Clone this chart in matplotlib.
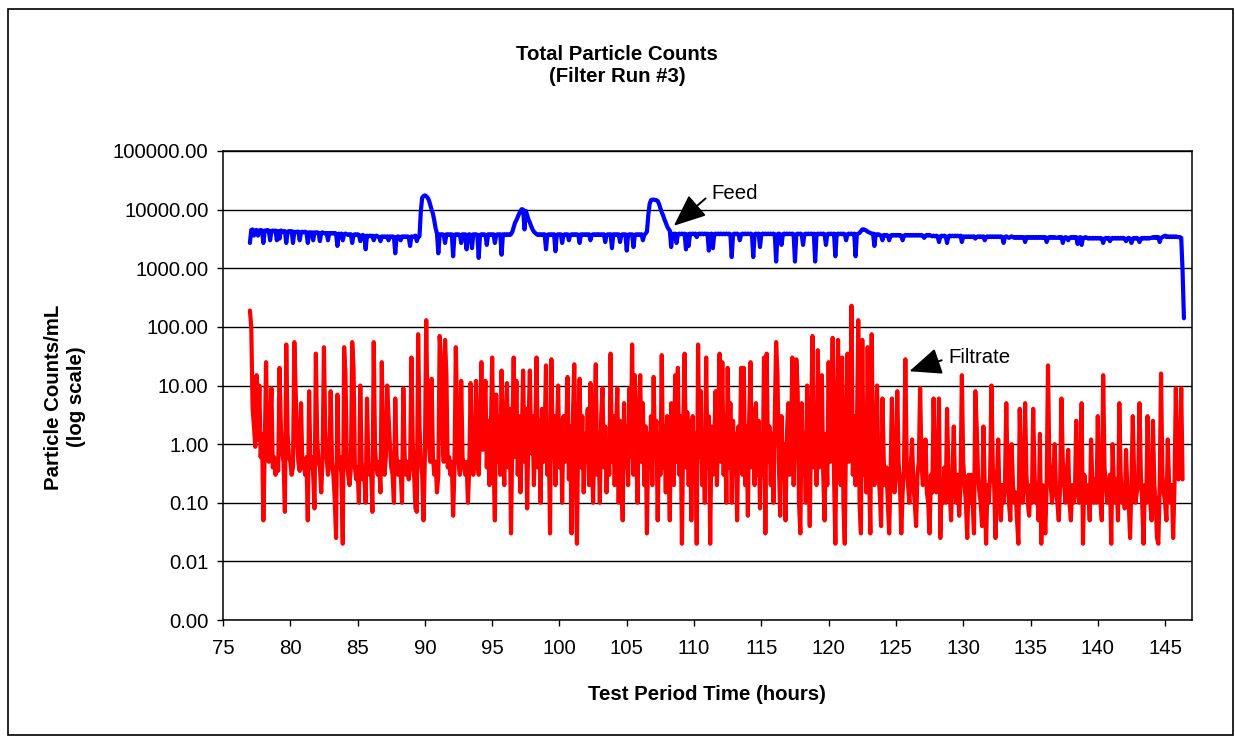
import numpy as np
import matplotlib
matplotlib.use("Agg")
import matplotlib.pyplot as plt
from matplotlib.patches import Rectangle
from matplotlib.ticker import FixedLocator, FixedFormatter, NullLocator

plt.rcParams['font.family'] = ['Liberation Sans', 'DejaVu Sans']

# ---------------- text ----------------
title_text = "Total Particle Counts\n(Filter Run #3)"
x_label = "Test Period Time (hours)"
y_label = "Particle Counts/mL\n(log scale)"
feed_label = "Feed"
filtrate_label = "Filtrate"

x_ticks = [75, 80, 85, 90, 95, 100, 105, 110, 115, 120, 125, 130, 135, 140, 145]
y_ticks = [0.001, 0.01, 0.1, 1, 10, 100, 1000, 10000, 100000]
y_tick_labels = ["0.00", "0.01", "0.10", "1.00", "10.00", "100.00",
                 "1000.00", "10000.00", "100000.00"]

# ---------------- data (sampled every 0.1 h) ----------------
sample_step_h = 0.1
feed_start_h = 77.0
filtrate_start_h = 77.0

feed_counts = [
    2700, 4500, 4600, 3600, 4400, 4500, 3600, 4400, 4500, 4400,   # 77
    2700, 4400, 4300, 4500, 4400, 3000, 4300, 4400, 4300, 4400,   # 78
    3000, 4300, 3200, 4400, 4300, 4200, 4300, 2700, 4200, 4300,   # 79
    4200, 4300, 2700, 4200, 4100, 4200, 4200, 3000, 4100, 4200,   # 80
    4100, 4200, 4100, 2700, 4100, 4000, 4100, 3000, 4100, 4000,   # 81
    4100, 4000, 2900, 4000, 4100, 4000, 3900, 4000, 3000, 4000,   # 82
    3900, 4000, 3900, 4000, 3900, 2400, 3900, 3800, 3900, 3000,   # 83
    3800, 3900, 3800, 3700, 3800, 3800, 2700, 3700, 3800, 3700,   # 84
    3800, 3700, 2900, 3600, 3700, 3500, 2100, 3600, 3500, 3600,   # 85
    3500, 3600, 3000, 3500, 3600, 3500, 3400, 2900, 3500, 3400,   # 86
    3500, 3400, 3500, 3000, 3500, 3400, 3500, 3400, 1800, 3400,   # 87
    3500, 3400, 3000, 3500, 3400, 3500, 3400, 3500, 3400, 2400,   # 88
    3500, 3400, 3500, 3600, 2900, 3400, 3500, 9500, 16000, 17000,  # 89
    17500, 17000, 16000, 14500, 12000, 10000, 8500, 6500, 4800, 3900,  # 90
    1800, 3800, 3700, 3800, 3700, 2700, 3800, 3700, 3800, 3700,   # 91
    3800, 1600, 3700, 3800, 3700, 3800, 3700, 2700, 3800, 3700,   # 92
    3800, 2100, 3700, 3800, 3700, 2200, 3800, 3700, 3800, 3700,   # 93
    1500, 3700, 3800, 3700, 3800, 3700, 2500, 3800, 3700, 3800,   # 94
    3700, 3800, 2700, 3700, 3800, 3700, 3800, 1700, 3800, 3700,   # 95
    3800, 3700, 3800, 3700, 3800, 4200, 5000, 6000, 6600, 7500,   # 96
    8500, 9500, 10200, 10000, 4600, 9500, 8000, 6800, 6000, 5200,  # 97
    4600, 4200, 4000, 3800, 3700, 3800, 3700, 3800, 3700, 3800,   # 98
    2100, 3700, 3800, 3700, 3800, 3700, 3800, 1950, 3700, 3800,   # 99
    3700, 3800, 2700, 3700, 3800, 3700, 3800, 3000, 3700, 3800,   # 100
    3700, 3800, 3700, 3800, 3700, 2700, 3800, 3700, 3800, 3700,   # 101
    3800, 3700, 3800, 3000, 3700, 3800, 3700, 3800, 3700, 3800,   # 102
    3700, 3800, 3700, 3800, 2800, 3700, 3800, 3700, 3800, 2200,   # 103
    3800, 3700, 3800, 3700, 3800, 2800, 3700, 3800, 3700, 3800,   # 104
    2000, 3700, 3800, 3700, 3800, 2300, 3700, 3800, 3700, 3800,   # 105
    3700, 3800, 3000, 3700, 3900, 4200, 8000, 12500, 14500, 14800,  # 106
    14800, 14600, 14500, 14000, 12500, 10500, 9000, 8000, 6800, 6000,  # 107
    5200, 4700, 4400, 2300, 3900, 3800, 3900, 2700, 3800, 3900,   # 108
    3800, 3900, 3800, 3900, 2100, 3800, 2400, 3900, 3800, 3900,   # 109
    3800, 3900, 3400, 3800, 3900, 3800, 3900, 3800, 3900, 3800,   # 110
    3900, 2000, 3800, 3900, 2200, 3800, 3900, 3800, 3900, 3800,   # 111
    3900, 3800, 3900, 3800, 3900, 3800, 3900, 3800, 1550, 3800,   # 112
    3900, 3800, 3900, 3800, 3000, 3800, 3900, 3800, 3900, 3800,   # 113
    3900, 3800, 3900, 3800, 1550, 3800, 3900, 3800, 3900, 2300,   # 114
    3800, 3900, 3800, 3900, 3800, 3900, 3800, 3900, 3800, 3900,   # 115
    3800, 1300, 3800, 3900, 3800, 2500, 3800, 3900, 3800, 3900,   # 116
    3800, 3900, 3800, 3900, 3800, 1300, 3800, 3900, 3800, 3900,   # 117
    3800, 2500, 3800, 3900, 3800, 3900, 3800, 3900, 3800, 3900,   # 118
    1300, 3800, 3900, 3800, 3900, 3800, 3900, 3800, 2500, 3800,   # 119
    3900, 3800, 3900, 3800, 3900, 1600, 3800, 3900, 3800, 3900,   # 120
    3800, 3900, 3800, 3000, 3800, 3900, 3800, 3900, 3800, 3900,   # 121
    1600, 3800, 3900, 4000, 4300, 4600, 4600, 4500, 4400, 4200,   # 122
    4100, 4000, 3900, 3900, 2400, 3800, 3700, 3800, 3700, 3600,   # 123
    3000, 3700, 3600, 3700, 3600, 3000, 3600, 3700, 3600, 3700,   # 124
    3600, 3700, 3600, 3700, 3600, 3000, 3600, 3700, 3600, 3700,   # 125
    3600, 3700, 3600, 3700, 3600, 3700, 3600, 3700, 3600, 3700,   # 126
    3600, 3300, 3600, 3700, 3600, 3700, 3600, 3500, 3600, 3500,   # 127
    3600, 3500, 2800, 3500, 3600, 3500, 3600, 3500, 2700, 3500,   # 128
    3600, 3500, 3600, 3500, 3600, 3500, 3600, 3500, 3600, 2800,   # 129
    3500, 3400, 3500, 3400, 3500, 3400, 3500, 3400, 3500, 3200,   # 130
    3400, 3500, 3400, 3500, 3400, 3500, 3000, 3400, 3500, 3400,   # 131
    3500, 3400, 3500, 3400, 3500, 3400, 3500, 3400, 3500, 3400,   # 132
    2700, 3400, 3500, 3400, 3300, 3400, 3500, 3400, 3300, 3400,   # 133
    3300, 3400, 3300, 3400, 3300, 3400, 2800, 3400, 3300, 3400,   # 134
    3300, 3400, 3300, 3400, 3300, 3400, 3300, 3400, 3300, 3400,   # 135
    3300, 3400, 2800, 3300, 3400, 3300, 3400, 3300, 3400, 3300,   # 136
    3300, 3400, 3300, 3400, 2700, 3300, 3400, 3300, 3000, 3300,   # 137
    3400, 3300, 3400, 3300, 3400, 2600, 3300, 3400, 2500, 3300,   # 138
    3300, 3400, 3300, 3200, 3300, 3200, 3300, 3200, 3300, 3200,   # 139
    3300, 3200, 3300, 3200, 2700, 3200, 3300, 3200, 3300, 2900,   # 140
    3200, 3300, 3200, 3300, 3200, 3300, 3200, 3300, 3200, 3300,   # 141
    3200, 2900, 3200, 3300, 3200, 2700, 3200, 3300, 3200, 3300,   # 142
    3200, 2800, 3200, 3300, 3200, 3300, 3200, 3300, 3200, 3300,   # 143
    3300, 3400, 3300, 3400, 3300, 3400, 2800, 3300, 3400, 3500,   # 144
    3600, 3400, 3500, 3400, 3500, 3400, 3500, 3400, 3500, 3400,   # 145
    3400, 3400, 3300, 900, 140,                                   # 146
]

filtrate_counts = [
    190, 100, 4, 2, 0.9, 15, 1.2, 10, 0.6, 1.5,                   # 77
    0.05, 0.8, 25, 1.2, 0.5, 1.8, 9, 0.4, 0.6, 0.3,               # 78
    0.5, 0.35, 20, 2, 0.7, 0.5, 0.07, 50, 1.5, 0.6,               # 79
    0.5, 0.3, 0.4, 55, 8, 1.2, 0.5, 0.35, 5, 0.4,                 # 80
    0.5, 0.3, 0.6, 0.05, 8, 0.4, 0.6, 0.3, 0.08, 35,              # 81
    1.2, 0.5, 0.4, 0.15, 0.6, 45, 1.5, 0.6, 0.3, 0.5,             # 82
    8, 0.5, 0.3, 0.12, 0.025, 7, 0.4, 0.6, 0.3, 0.02,             # 83
    45, 15, 0.5, 0.3, 0.2, 0.4, 55, 20, 0.4, 0.25,                # 84
    0.4, 0.1, 10, 0.5, 0.25, 0.3, 0.1, 6, 0.5, 0.3,               # 85
    0.4, 0.07, 55, 0.8, 0.4, 0.3, 0.5, 0.15, 25, 0.5,             # 86
    0.3, 0.6, 10, 3, 1.0, 0.4, 0.3, 0.1, 6, 0.6,                  # 87
    0.3, 0.5, 0.35, 0.1, 9, 0.6, 0.3, 0.5, 0.25, 0.4,             # 88
    30, 1.0, 0.3, 0.08, 0.07, 75, 2, 0.5, 0.3, 0.05,              # 89
    0.6, 130, 3, 1, 0.5, 13, 0.6, 0.3, 0.5, 0.15,                 # 90
    0.3, 70, 25, 2, 0.5, 60, 15, 0.4, 0.6, 0.3,                   # 91
    0.5, 0.06, 0.4, 45, 3, 0.5, 0.3, 12, 0.6, 0.4,                # 92
    0.3, 0.5, 0.1, 0.4, 11, 0.5, 0.3, 0.5, 12, 0.6,               # 93
    0.3, 2, 25, 0.8, 3, 12, 0.4, 2.5, 0.2, 1.5,                   # 94
    30, 0.6, 0.05, 7, 0.5, 3, 0.3, 18, 1, 0.2,                    # 95
    2, 11, 0.4, 4, 0.03, 1.5, 30, 0.6, 12, 0.3,                   # 96
    3, 0.15, 1.2, 18, 0.5, 4, 0.08, 2, 18, 0.7,                   # 97
    3, 0.2, 1.5, 30, 0.4, 2.5, 0.1, 4, 0.5, 1.5,                  # 98
    22, 0.3, 2, 0.03, 28, 0.6, 3, 0.2, 1.2, 10,                   # 99
    0.4, 2.5, 0.1, 3, 0.5, 1.5, 14, 0.25, 2, 0.03,                # 100
    3, 23, 0.5, 0.02, 2, 13, 0.4, 3, 0.15, 1.5,                   # 101
    0.5, 4, 0.2, 11, 0.8, 0.1, 2, 23, 0.3, 1.5,                   # 102
    0.1, 3, 9, 0.4, 2, 0.15, 1, 0.3, 35, 0.5,                     # 103
    3, 0.2, 1.5, 9, 0.1, 2.5, 0.3, 0.05, 5, 0.4,                  # 104
    2, 0.2, 9, 0.6, 50, 0.3, 15, 0.8, 0.1, 3,                     # 105
    15, 0.5, 5, 0.2, 2, 0.03, 1.5, 0.4, 3, 0.2,                   # 106
    14, 0.6, 2.5, 0.05, 1.5, 0.3, 33, 0.4, 2, 0.15,               # 107
    3, 0.5, 0.05, 5, 1, 0.2, 15, 0.5, 20, 0.3,                    # 108
    3, 0.02, 2, 35, 0.4, 3.5, 0.2, 2.5, 0.05, 3,                  # 109
    0.3, 1.5, 0.02, 50, 0.6, 8, 0.2, 1.5, 0.1, 30,                # 110
    0.4, 3, 0.02, 2, 0.3, 1, 8, 0.2, 3, 35,                       # 111
    0.5, 25, 0.3, 3, 0.1, 20, 0.4, 5, 0.1, 2.5,                   # 112
    0.3, 1.5, 0.05, 2, 0.4, 20, 0.3, 20, 0.2, 2,                  # 113
    0.06, 3, 25, 0.4, 4, 0.2, 5, 0.3, 2.5, 0.08,                  # 114
    1.5, 0.3, 30, 0.03, 35, 0.5, 2, 0.2, 1.5, 0.1,                # 115
    3, 55, 15, 0.5, 0.06, 3, 0.3, 1, 0.05, 1.5,                   # 116
    5, 0.3, 0.5, 30, 0.2, 1.5, 28, 8, 0.1, 0.03,                  # 117
    5, 0.3, 1.5, 0.1, 10, 0.5, 0.04, 2, 70, 0.4,                  # 118
    3, 0.2, 40, 0.4, 2, 15, 0.3, 0.05, 1.5, 0.2,                  # 119
    25, 0.5, 2, 65, 0.3, 0.02, 3, 60, 0.5, 0.2,                   # 120
    30, 0.1, 0.02, 2, 35, 0.5, 1.5, 230, 0.3, 3,                  # 121
    0.2, 1.5, 130, 0.1, 0.03, 60, 0.3, 1, 0.15, 45,               # 122
    0.4, 0.03, 75, 0.5, 0.2, 1, 10, 0.3, 0.15, 0.04,              # 123
    6, 0.5, 0.2, 0.4, 0.1, 0.03, 0.3, 6, 0.4, 0.15,               # 124
    0.3, 8, 0.5, 0.2, 0.03, 0.15, 0.4, 28, 0.5, 0.2,              # 125
    0.1, 0.4, 1.2, 0.2, 0.1, 0.04, 0.3, 0.5, 9, 0.5,              # 126
    0.2, 0.4, 1.2, 0.15, 0.1, 0.03, 0.3, 0.15, 6, 0.4,            # 127
    0.15, 0.3, 6, 0.025, 0.2, 0.1, 0.4, 0.1, 4, 0.3,              # 128
    0.15, 0.05, 0.3, 2, 0.15, 0.1, 0.3, 0.06, 0.2, 15,            # 129
    0.5, 0.2, 0.1, 0.025, 0.3, 0.1, 0.3, 0.1, 0.03, 8,            # 130
    2, 0.3, 0.15, 0.1, 0.04, 2, 0.2, 0.02, 0.2, 0.1,              # 131
    0.3, 10, 0.4, 0.2, 0.025, 0.2, 1.2, 0.1, 0.05, 0.2,           # 132
    0.1, 0.2, 5, 0.3, 0.1, 0.05, 1, 0.2, 0.1, 0.15,               # 133
    0.05, 0.02, 4, 0.3, 0.1, 0.2, 5, 0.3, 0.1, 0.06,              # 134
    0.2, 0.1, 4, 0.3, 0.1, 0.15, 0.05, 1.5, 0.02, 0.2,            # 135
    0.1, 0.03, 0.2, 22, 0.5, 0.2, 0.1, 0.3, 1, 0.15,              # 136
    0.1, 0.05, 0.2, 6, 0.5, 0.2, 0.1, 0.3, 0.8, 0.1,              # 137
    0.05, 0.2, 0.1, 0.15, 2.5, 0.2, 0.1, 0.3, 5, 0.02,            # 138
    0.3, 0.15, 0.1, 0.2, 0.05, 1.2, 0.2, 0.1, 0.25, 0.1,          # 139
    3, 0.2, 0.1, 0.05, 15, 0.4, 0.2, 0.1, 0.15, 0.3,              # 140
    0.02, 1, 0.2, 0.1, 0.25, 0.05, 5, 0.3, 0.1, 0.2,              # 141
    0.08, 0.8, 0.15, 0.1, 0.025, 0.2, 3, 0.3, 0.1, 0.15,          # 142
    0.2, 5, 0.3, 0.1, 0.02, 0.2, 0.1, 3, 0.2, 0.1,                # 143
    0.05, 2.5, 0.2, 0.1, 0.025, 0.02, 0.2, 16, 0.3, 0.15,         # 144
    0.1, 0.05, 1.2, 0.2, 0.1, 0.2, 0.025, 0.2, 9, 0.3,            # 145
    0.25, 0.55, 9, 0.25,                                          # 146
]

feed_hours = feed_start_h + sample_step_h * np.arange(len(feed_counts))
filtrate_hours = filtrate_start_h + sample_step_h * np.arange(len(filtrate_counts))

# ---------------- figure ----------------
W, H = 1235, 738
fig = plt.figure(figsize=(W / 100, H / 100), dpi=100)
fig.patch.set_facecolor('white')

left, right, top, bottom = 223, 1192, 151, 620
ax = fig.add_axes([left / W, 1 - bottom / H, (right - left) / W, (bottom - top) / H])

ax.plot(filtrate_hours, filtrate_counts, color='#FF0000', lw=3.0,
        solid_joinstyle='round', solid_capstyle='round', zorder=3)
ax.plot(feed_hours, feed_counts, color='#0000FF', lw=3.0,
        solid_joinstyle='round', solid_capstyle='round', zorder=3)

ax.set_yscale('log')
ax.set_ylim(0.001, 100000)
ax.set_xlim(75, 147)

ax.yaxis.set_major_locator(FixedLocator(y_ticks))
ax.yaxis.set_major_formatter(FixedFormatter(y_tick_labels))
ax.yaxis.set_minor_locator(NullLocator())
ax.xaxis.set_major_locator(FixedLocator(x_ticks))
ax.xaxis.set_minor_locator(NullLocator())

fs = 14.7
ax.tick_params(axis='both', direction='out', length=4.5, width=1.0,
               colors='black', labelsize=fs)
ax.tick_params(axis='y', pad=6)
ax.tick_params(axis='x', pad=9)

ax.grid(axis='y', which='major', color='black', lw=1.0)
ax.grid(axis='x', visible=False)
ax.set_axisbelow(True)
for s in ax.spines.values():
    s.set_color('black')
    s.set_linewidth(1.1)

# titles and labels
fig.text(617 / W, 1 - 66 / H, title_text, ha='center', va='center',
         fontsize=fs, fontweight='bold', linespacing=1.2)
fig.text(707 / W, 1 - 695 / H, x_label, ha='center', va='center',
         fontsize=fs, fontweight='bold')
fig.text(65 / W, 1 - 397 / H, y_label, ha='center', va='center',
         rotation=90, fontsize=fs, fontweight='bold',
         multialignment='center', linespacing=1.2)

# annotations
arrow_kw = dict(arrowstyle='-|>,head_length=0.9,head_width=0.38',
                mutation_scale=22, color='black', lw=1.4,
                shrinkA=3, shrinkB=0, relpos=(0.0, 0.5))
ax.annotate(feed_label, xy=(108.5, 5300), xytext=(111.3, 19000),
            textcoords='data', ha='left', va='center', fontsize=fs,
            arrowprops=arrow_kw, zorder=5)
ax.annotate(filtrate_label, xy=(126.0, 17.5), xytext=(128.9, 29.5),
            textcoords='data', ha='left', va='center', fontsize=fs,
            arrowprops=arrow_kw, zorder=5)

# chart-area border
fig.patches.append(Rectangle((8 / W, 3 / H), (1233 - 8) / W, (738 - 9 - 3) / H,
                             transform=fig.transFigure, fill=False,
                             edgecolor='black', lw=1.2))

fig.savefig('out.png', dpi=100, facecolor='white')
